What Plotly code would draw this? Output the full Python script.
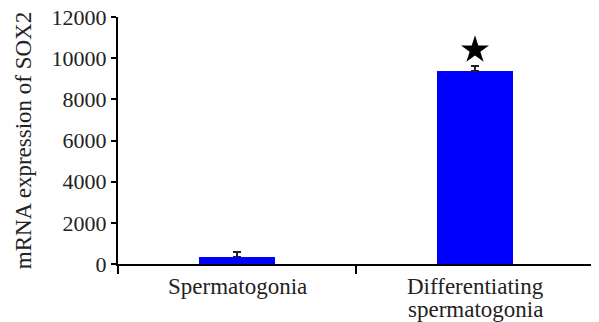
import plotly.graph_objects as go

categories = ["Spermatogonia", "Differentiating spermatogonia"]
category_lines = [["Spermatogonia"], ["Differentiating", "spermatogonia"]]
expression = [360, 9380]
error_up = [220, 230]
significance_y = [None, 10400]
y_ticks = [0, 2000, 4000, 6000, 8000, 10000, 12000]
y_tick_labels = ["0", "2000", "4000", "6000", "8000", "10000", "12000"]

fam = "Liberation Serif, Times New Roman, serif"
font = dict(family=fam, size=22, color="#222222")

fig = go.Figure()
fig.add_trace(go.Bar(
    x=categories, y=expression, width=0.32,
    marker=dict(color="#0000FF", line=dict(width=0)),
    error_y=dict(type="data", symmetric=False, array=error_up, arrayminus=[0, 0],
                 color="#222222", thickness=1.5, width=4),
    showlegend=False,
))
fig.add_trace(go.Scatter(
    x=categories, y=significance_y, mode="markers",
    marker=dict(symbol="star", size=21, color="black"),
    showlegend=False,
))

for cat, lines in zip(categories, category_lines):
    for i, line in enumerate(lines):
        fig.add_annotation(
            x=cat, xref="x", y=0, yref="paper", text=line, showarrow=False,
            yanchor="middle", xanchor="center", yshift=-22 - 23 * i,
            font=dict(family=fam, size=23, color="#222222"),
        )

# the page body adds an 8px margin, so the figure is sized to fit inside it
fig.update_layout(
    width=591, height=314,
    margin=dict(l=110, r=5, t=9, b=58),
    paper_bgcolor="white", plot_bgcolor="white",
    font=font,
    bargap=0,
)
fig.update_xaxes(
    range=[-0.5, 1.5], showline=True, linecolor="black", linewidth=2,
    ticks="outside", tickson="boundaries", ticklen=8, tickwidth=2, tickcolor="black",
    showgrid=False, zeroline=False, showticklabels=False, automargin=False,
)
fig.update_yaxes(
    range=[0, 12000.5], tickvals=y_ticks, ticktext=y_tick_labels,
    showline=True, linecolor="black", linewidth=2,
    ticks="outside", ticklen=5, tickwidth=2, tickcolor="black",
    showgrid=False, zeroline=False, tickfont=font, automargin=False,
    ticklabeloverflow="allow",
    title=dict(text="mRNA expression of SOX2", font=dict(family=fam, size=23, color="#222222"), standoff=14),
)
fig.write_html("out.html")
